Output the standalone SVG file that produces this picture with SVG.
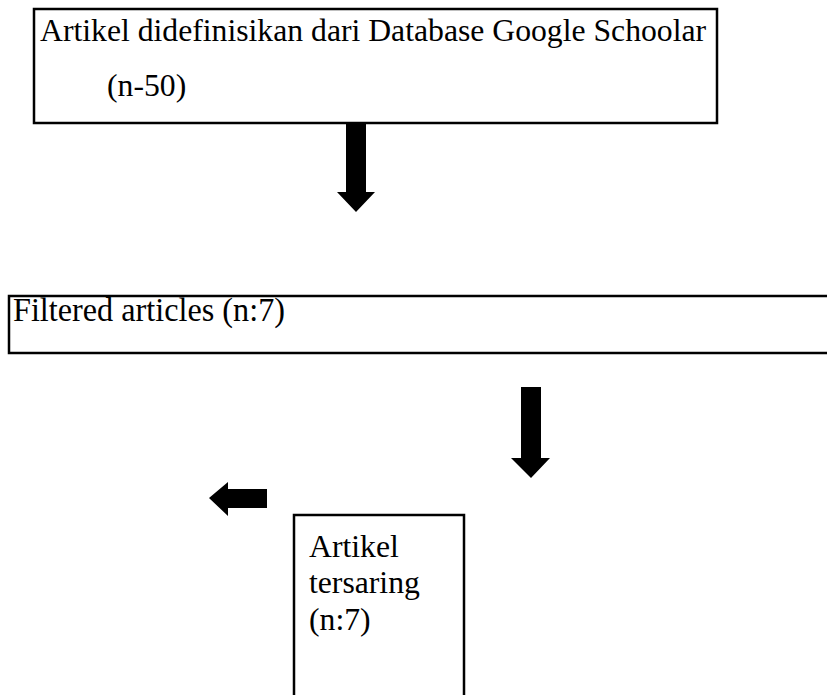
<svg xmlns="http://www.w3.org/2000/svg" width="827" height="695" viewBox="0 0 827 695">
<style>
.box{fill:#fff;stroke:#000;stroke-width:2.5}
.t{font-family:"Liberation Serif","Times New Roman",serif;font-size:31.7px;fill:#000}
.arr{fill:#000}
</style>
<rect width="827" height="695" fill="#fff"/>
<g id="node-artikel-database">
<rect class="box" x="34" y="9" width="683" height="114"/>
<text class="t" x="40" y="41">Artikel didefinisikan dari Database Google Schoolar</text>
<text class="t" x="107" y="96">(n-50)</text>
</g>
<g id="node-filtered">
<rect class="box" x="9" y="296" width="830" height="57"/>
<text class="t" x="13" y="321" style="font-size:34px" textLength="272" lengthAdjust="spacingAndGlyphs">Filtered articles (n:7)</text>
</g>
<g id="node-tersaring">
<rect class="box" x="294" y="515" width="170" height="200"/>
<text class="t" x="309" y="557">Artikel</text>
<text class="t" x="309" y="593">tersaring</text>
<text class="t" x="309" y="630">(n:7)</text>
</g>
<g id="connectors">
<polygon class="arr" points="346,122 366,122 366,192 375,192 356,212 337,192 346,192"/>
<polygon class="arr" points="521,387 541,387 541,458 550,458 531,478 511,458 521,458"/>
<polygon class="arr" points="267,489 267,508 228,508 228,516 209,498 228,482 228,489"/>
</g>
</svg>
